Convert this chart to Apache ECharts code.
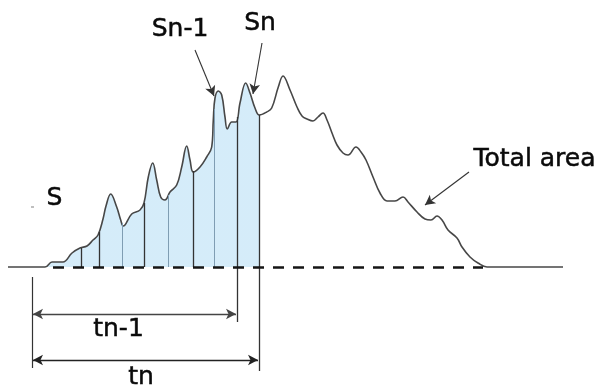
<!DOCTYPE html>
<html><head><meta charset="utf-8">
<script src="https://cdn.jsdelivr.net/npm/echarts@6/dist/echarts.min.js"></script>
<style>html,body{margin:0;padding:0;background:#fff}#c{width:601px;height:391px}</style>
</head><body><div id="c"></div>
<script>
// x: horizontal position (time), y: height above baseline
const curveX = [8,45,52,57,63,72,80,87,93,98,103,106,110.7,116.7,120.7,123.3,131.7,140,144,148.3,152.7,156.7,160.7,165,170,176.7,181.7,186.7,190,193.3,200,206.7,211.7,213.3,215,218.3,221.7,225,227.3,231.7,236,240,245.7,250,255,259.3,266.7,271.7,278.3,283,290,297,302,307,313,318,323,327,332,337,343,348,356,361,366,373,380,387,395,403,408,417,425,431,437,442,448,457,462,470,478,487,507,563];
const curveY = [0,0,5,5,5,14,19,21,27,32,48,61,73,60,47,41,53,57,64,90,104,87,70,67,75,82,100,121,107,95,100,110,120,147,169,176,172,150,138,145,145,164,184,174,159,152,155,159,180,191,177,160,151,148,146,150,154,147,134,122,114,112,120,115,107,90,74,66,66,70,65,55,48,47,51,47,37,29,20,10,4,0,0,0];
// slice boundaries (x) and their heights at the curve
const sliceX = [81,99,122,144,168,193,214,237,259];
const sliceTop = [19,35,44,64,72,96,158,150,152];
const sliceBottom = [0,0,0,0,0,0,0,-55,-104];
const sliceDark = [1,1,0,1,0,1,0,1,1];
const shadeEnd = 259.5;
const baselineDash = [53, 483];
const dimLeft = [32, -10, -101];
const tnMinus1Y = -47, tnY = -93;
const labels = ['S','Sn-1','Sn','Total area','tn-1','tn'];

const pairs = [];
for (let i = 0; i < sliceX.length; i++) {
  pairs.push([{coord:[sliceX[i], sliceBottom[i]], symbol:'none',
     lineStyle:{color: sliceDark[i] ? '#333' : '#7f9db3', width: sliceDark[i] ? 1.3 : 1, type:'solid'}},
    {coord:[sliceX[i], sliceTop[i]], symbol:'none'}]);
}
// dashed baseline
pairs.push([{coord:[baselineDash[0],0], symbol:'none', lineStyle:{color:'#151515', width:2.6, type:[11,9]}},{coord:[baselineDash[1],0], symbol:'none'}]);
// left dimension line
pairs.push([{coord:[dimLeft[0],dimLeft[1]], symbol:'none', lineStyle:{color:'#333', width:1.2, type:'solid'}},{coord:[dimLeft[0],dimLeft[2]], symbol:'none'}]);
// tn-1 and tn arrows
pairs.push([{coord:[dimLeft[0]+1,tnMinus1Y], symbol:'arrow', lineStyle:{color:'#444', width:1.4, type:'solid'}},{coord:[sliceX[7]-1,tnMinus1Y], symbol:'arrow'}]);
pairs.push([{coord:[dimLeft[0]+1,tnY], symbol:'arrow', lineStyle:{color:'#222', width:1.4, type:'solid'}},{coord:[sliceX[8]-1,tnY], symbol:'arrow'}]);
// pointer arrows
pairs.push([{coord:[195,217], symbol:'none', lineStyle:{color:'#333', width:1.1, type:'solid'}},{coord:[214,171], symbol:'arrow'}]);
pairs.push([{coord:[262,224], symbol:'none', lineStyle:{color:'#333', width:1.1, type:'solid'}},{coord:[253,173], symbol:'arrow'}]);
pairs.push([{coord:[469,95], symbol:'none', lineStyle:{color:'#333', width:1.1, type:'solid'}},{coord:[425,62], symbol:'arrow'}]);
// tiny mark near S
pairs.push([{coord:[31,60], symbol:'none', lineStyle:{color:'#aaa', width:1.5, type:'solid'}},{coord:[34,60], symbol:'none'}]);

const textStyle = {fontFamily:'DejaVu Sans', fontSize:25, fill:'#0a0a0a', stroke:'#0a0a0a', lineWidth:0.5, align:'center', verticalAlign:'middle'};
const textPos = [[54.5,198],[180,29],[260,23],[534.5,159],[118.5,329],[141,377]];

const chart = echarts.init(document.getElementById('c'), null, {renderer:'canvas'});
chart.setOption({
  animation:false,
  backgroundColor:'#fff',
  grid:{left:0,right:0,top:0,bottom:0},
  xAxis:{type:'value', min:0, max:601, show:false},
  yAxis:{type:'value', min:-124, max:267, show:false},
  series:[{
    type:'line', smooth:0.4, symbol:'none', silent:true,
    data: curveX.map((x,i)=>[x, curveY[i]]),
    lineStyle:{color:'#474747', width:1.6},
    areaStyle:{origin:'auto', color:{type:'linear', x:0, y:0, x2:601, y2:0, global:true,
      colorStops:[{offset:0,color:'#c3e4f7'},{offset:shadeEnd/601,color:'#c3e4f7'},{offset:shadeEnd/601,color:'rgba(255,255,255,0)'},{offset:1,color:'rgba(255,255,255,0)'}]}},
    markLine:{silent:true, symbol:['none','none'], symbolSize:[8,10], label:{show:false}, emphasis:{disabled:true}, data:pairs, animation:false}
  }],
  graphic: labels.map((t,i)=>({type:'text', x:textPos[i][0], y:textPos[i][1], style:Object.assign({text:t}, textStyle)}))
});
</script></body></html>
